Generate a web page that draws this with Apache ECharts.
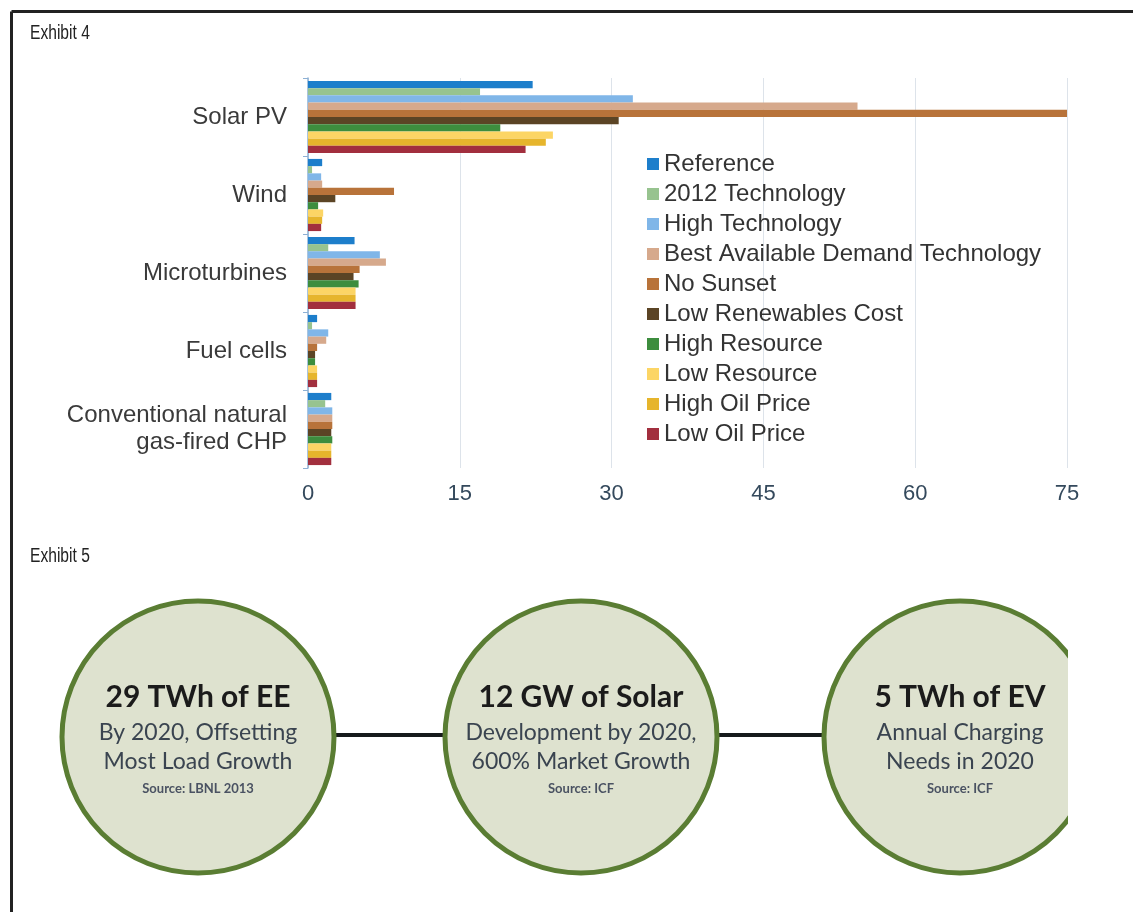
<!DOCTYPE html>
<html>
<head>
<meta charset="utf-8">
<title>Exhibit 4 / Exhibit 5</title>
<script src="https://cdn.jsdelivr.net/npm/echarts@6/dist/echarts.min.js"></script>
<style>
  html, body { margin: 0; padding: 0; background: #fff; }
  #chart { width: 1133px; height: 912px; }
</style>
</head>
<body>
<div id="chart"></div>
<script>
// exhibit 4 data
const categories = ['Solar PV', 'Wind', 'Microturbines', 'Fuel cells', 'Conventional natural\ngas-fired CHP'];
const scenarios = ['Reference', '2012 Technology', 'High Technology', 'Best Available Demand Technology',
  'No Sunset', 'Low Renewables Cost', 'High Resource', 'Low Resource', 'High Oil Price', 'Low Oil Price'];
const reference     = [22.2, 1.4, 4.6, 0.9, 2.3];
const tech2012      = [17.0, 0.4, 2.0, 0.4, 1.7];
const highTech      = [32.1, 1.3, 7.1, 2.0, 2.4];
const bestAvailable = [54.3, 1.4, 7.7, 1.8, 2.4];
const noSunset      = [75.0, 8.5, 5.1, 0.9, 2.4];
const lowRenewables = [30.7, 2.7, 4.5, 0.7, 2.3];
const highResource  = [19.0, 1.0, 5.0, 0.7, 2.4];
const lowResource   = [24.2, 1.5, 4.7, 0.9, 2.3];
const highOil       = [23.5, 1.4, 4.7, 0.9, 2.3];
const lowOil        = [21.5, 1.3, 4.7, 0.9, 2.3];
const xTicks = [0, 15, 30, 45, 60, 75];

// exhibit 5 text
const bubbleTitles = ['29 TWh of EE', '12 GW of Solar', '5 TWh of EV'];
const bubbleLines = [
  ['By 2020, Offsetting', 'Most Load Growth'],
  ['Development by 2020,', '600% Market Growth'],
  ['Annual Charging', 'Needs in 2020']
];
const bubbleSources = ['Source: LBNL 2013', 'Source: ICF', 'Source: ICF'];

const seriesValues = [reference, tech2012, highTech, bestAvailable, noSunset,
  lowRenewables, highResource, lowResource, highOil, lowOil];
const colors = ['#1d7ecb', '#97c38f', '#80b6e8', '#d6a98c', '#b8733a',
  '#5b4425', '#3d8d3e', '#fcd565', '#e6b52c', '#a22f3e'];

var myChart = echarts.init(document.getElementById('chart'));

// bubbles for exhibit 5
var bubbleX = [198, 581, 960];
var bubbleY = 737;
var graphics = [
  // frame
  { type: 'line', shape: { x1: 11.5, y1: 11.5, x2: 1133, y2: 11.5 }, style: { stroke: '#222', lineWidth: 3 } },
  { type: 'line', shape: { x1: 11.5, y1: 11.5, x2: 11.5, y2: 912 }, style: { stroke: '#222', lineWidth: 3 } },
  // narrow captions (condensed look)
  { type: 'text', x: 30, y: 33, scaleX: 0.78, style: { text: 'Exhibit 4', x: 0, y: 0, font: '20px "Liberation Sans"', fill: '#222', verticalAlign: 'middle' } },
  { type: 'text', x: 30, y: 556, scaleX: 0.78, style: { text: 'Exhibit 5', x: 0, y: 0, font: '20px "Liberation Sans"', fill: '#222', verticalAlign: 'middle' } },
  // connectors
  { type: 'line', shape: { x1: 334, y1: 735, x2: 447, y2: 735 }, style: { stroke: '#161a1c', lineWidth: 4 } },
  { type: 'line', shape: { x1: 715, y1: 735, x2: 825, y2: 735 }, style: { stroke: '#161a1c', lineWidth: 4 } }
];
bubbleX.forEach(function (cx, i) {
  graphics.push({ type: 'circle', shape: { cx: cx, cy: bubbleY, r: 136 },
    style: { fill: '#dee2cf', stroke: '#5a7d33', lineWidth: 5 } });
  graphics.push({ type: 'text', style: { text: bubbleTitles[i], x: cx, y: 697, align: 'center', verticalAlign: 'middle',
    font: 'bold 30px Lato', fill: '#1b1b1b' } });
  graphics.push({ type: 'text', style: { text: bubbleLines[i][0], x: cx, y: 733, align: 'center', verticalAlign: 'middle',
    font: '23px Lato', fill: '#3a4450' } });
  graphics.push({ type: 'text', style: { text: bubbleLines[i][1], x: cx, y: 762, align: 'center', verticalAlign: 'middle',
    font: '23px Lato', fill: '#3a4450' } });
  graphics.push({ type: 'text', style: { text: bubbleSources[i], x: cx, y: 789, align: 'center', verticalAlign: 'middle',
    font: 'bold 13px Lato', fill: '#4a5262' } });
});
// right crop of the third bubble
graphics.push({ type: 'rect', shape: { x: 1068, y: 590, width: 70, height: 300 }, style: { fill: '#fff' } });

var option = {
    animation: false,
    color: colors,
    textStyle: { fontFamily: 'Liberation Sans, Arial, sans-serif' },
    legend: {
        data: scenarios,
        orient: 'vertical',
        left: 642,
        top: 147,
        icon: 'rect',
        itemWidth: 12,
        itemHeight: 12,
        itemGap: 6,
        itemStyle: { borderWidth: 0 },
        textStyle: { fontSize: 24, color: '#333', lineHeight: 24, fontFamily: 'Liberation Sans' }
    },
    grid: { left: 308, right: 66, top: 78, bottom: 444, containLabel: false },
    xAxis: {
        type: 'value',
        min: 0,
        max: 75,
        interval: 15,
        axisLine: { show: false },
        axisTick: { show: false },
        splitLine: { lineStyle: { color: '#dde3ea', width: 1 } },
        axisLabel: {
            margin: 15,
            fontSize: 22,
            color: '#34495c',
            fontFamily: 'Liberation Sans',
            formatter: function (v) { return xTicks.indexOf(v) >= 0 ? String(v) : ''; }
        }
    },
    yAxis: {
        type: 'category',
        data: categories,
        inverse: true,
        axisLine: { show: true, lineStyle: { color: '#8db0d4', width: 1.5 } },
        axisTick: { show: true, length: 5, lineStyle: { color: '#8db0d4' } },
        axisLabel: { margin: 21, fontSize: 24, color: '#3a3a3a', lineHeight: 27, fontFamily: 'Liberation Sans' }
    },
    series: scenarios.map(function (name, i) {
        return {
            name: name,
            type: 'bar',
            data: seriesValues[i],
            barGap: '0%',
            barCategoryGap: '7.5%'
        };
    }),
    graphic: graphics
};

myChart.setOption(option);
</script>
</body>
</html>
